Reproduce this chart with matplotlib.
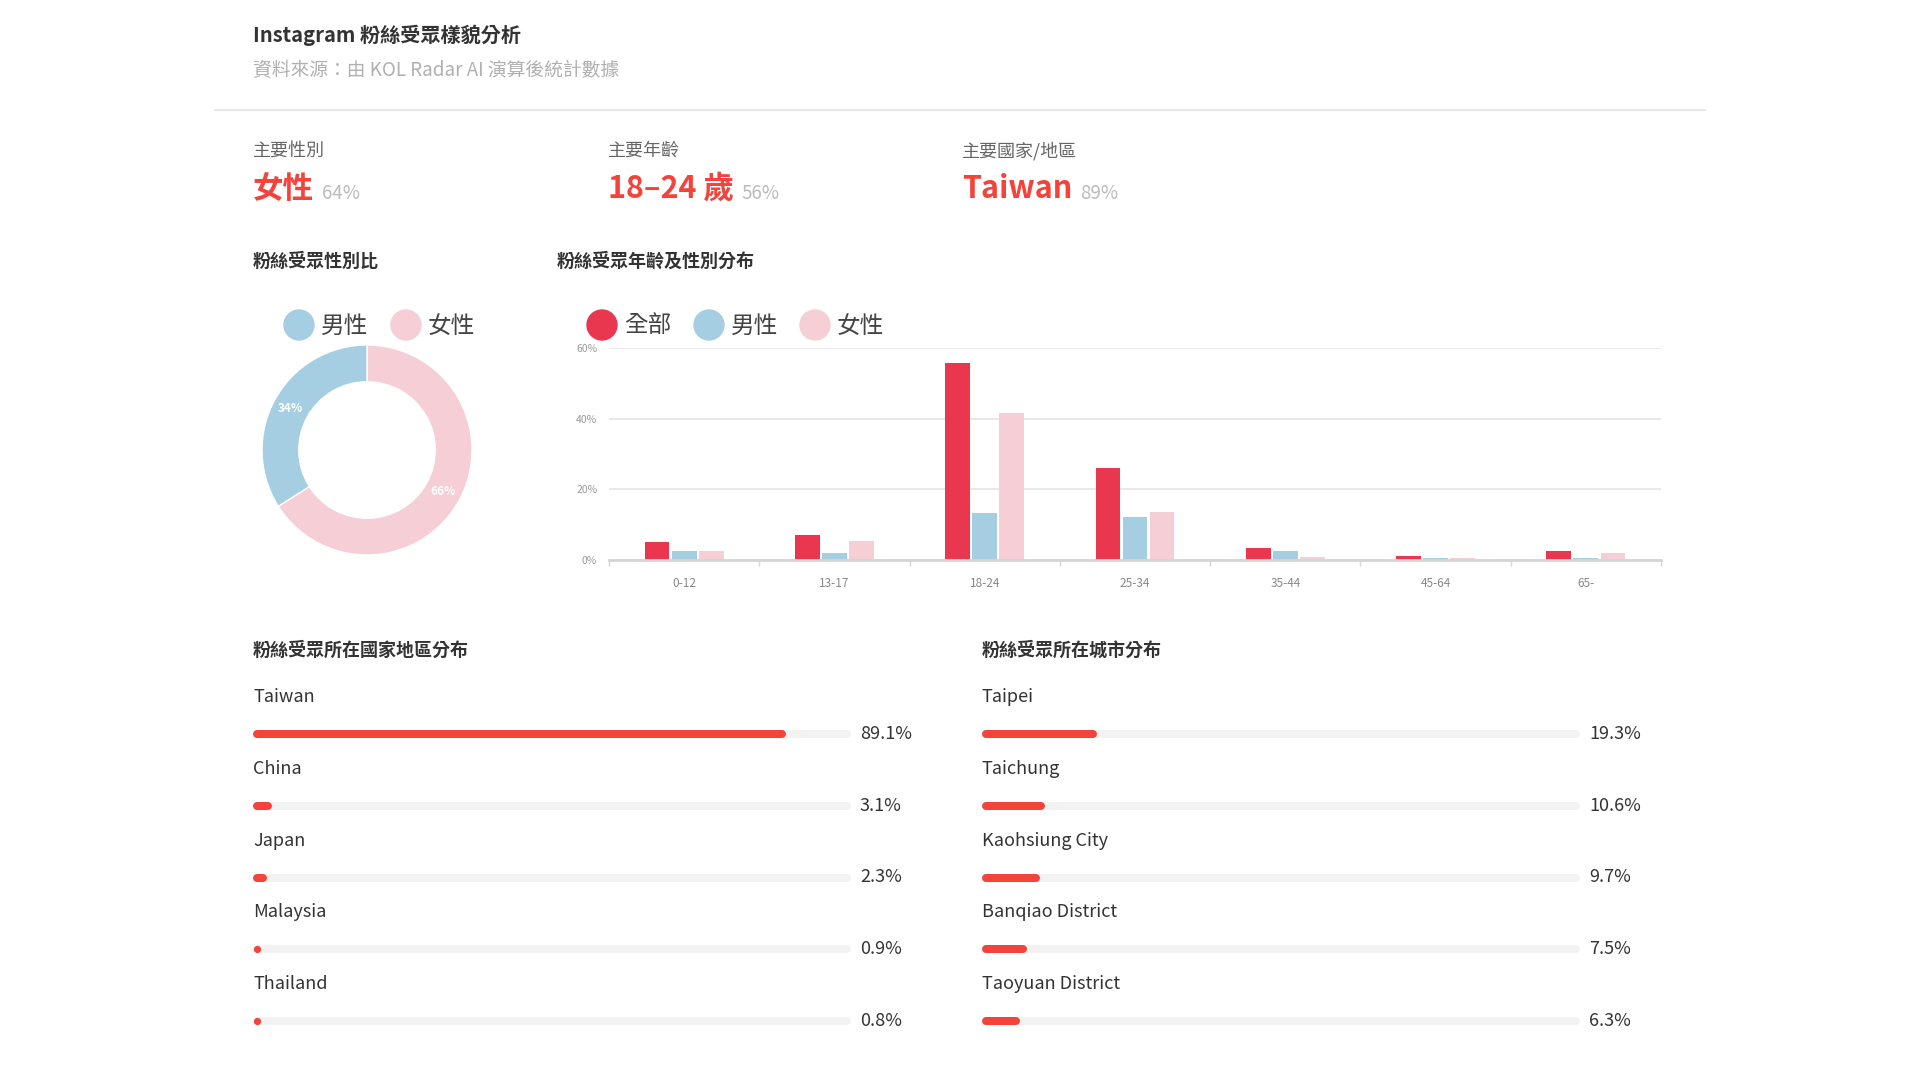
import numpy as np
import matplotlib
matplotlib.use("Agg")
import matplotlib.pyplot as plt
from matplotlib.patches import Ellipse
from matplotlib.lines import Line2D

plt.rcParams['font.family'] = ['Noto Sans CJK TC', 'DejaVu Sans']

W, H = 1920, 1080

# ---- data ----
summary_titles = ['主要性別', '主要年齡', '主要國家/地區']
summary_values = ['女性', '18–24 歲', 'Taiwan']
summary_pct = ['64%', '56%', '89%']

gender_labels = ['男性', '女性']
gender_share = [34, 66]

age_groups = ['0-12', '13-17', '18-24', '25-34', '35-44', '45-64', '65-']
age_all = [5.2, 7.1, 55.8, 26.0, 3.3, 1.1, 2.5]
age_male = [2.6, 1.9, 13.4, 12.3, 2.6, 0.7, 0.7]
age_female = [2.6, 5.4, 41.6, 13.6, 0.9, 0.5, 1.9]
age_series = ['全部', '男性', '女性']

countries = ['Taiwan', 'China', 'Japan', 'Malaysia', 'Thailand']
country_pct = [89.1, 3.1, 2.3, 0.9, 0.8]
cities = ['Taipei', 'Taichung', 'Kaohsiung City', 'Banqiao District', 'Taoyuan District']
city_pct = [19.3, 10.6, 9.7, 7.5, 6.3]

RED = '#f4433b'
ALL = '#e8374e'
MALE = '#a6cee3'
FEMALE = '#f6ced5'
DARK = '#333333'


def fx(x):
    return x / W


def fy(y):
    return 1 - y / H


def box(l, t, r, b):
    return [l / W, 1 - b / H, (r - l) / W, (b - t) / H]


fig = plt.figure(figsize=(19.2, 10.8), dpi=100)
fig.patch.set_facecolor('white')
renderer = fig.canvas.get_renderer()

# header
fig.text(fx(253), fy(35), 'Instagram 粉絲受眾樣貌分析', fontsize=14.5,
         fontweight='bold', color=DARK, va='center')
fig.text(fx(253), fy(71), '資料來源：由 KOL Radar AI 演算後統計數據', fontsize=13.5,
         color='#b0b0b0', va='center')
fig.add_artist(Line2D([fx(215), fx(1705)], [fy(110), fy(110)], color='#e6e6e6', lw=1.5))

# summary row
for title, val, pct, x in zip(summary_titles, summary_values, summary_pct, [253, 608, 962]):
    fig.text(fx(x), fy(151), title, fontsize=13, color='#666666', va='center')
    t = fig.text(fx(x), fy(198), val, fontsize=22, fontweight='bold', color=RED, va='baseline')
    right = t.get_window_extent(renderer).x1
    fig.text((right + 8) / W, fy(199), pct, fontsize=13.5, color='#bbbbbb', va='baseline')

# section headings
fig.text(fx(253), fy(261), '粉絲受眾性別比', fontsize=13, fontweight='bold', color=DARK, va='center')
fig.text(fx(557), fy(261), '粉絲受眾年齡及性別分布', fontsize=13, fontweight='bold', color=DARK, va='center')
fig.text(fx(253), fy(650), '粉絲受眾所在國家地區分布', fontsize=13, fontweight='bold', color=DARK, va='center')
fig.text(fx(982), fy(650), '粉絲受眾所在城市分布', fontsize=13, fontweight='bold', color=DARK, va='center')


def legend(items, xs, y):
    for (label, color), x in zip(items, xs):
        fig.add_artist(Ellipse((fx(x), fy(y)), 30 / W, 30 / H, color=color,
                               transform=fig.transFigure))
        fig.text(fx(x + 22), fy(y + 1), label, fontsize=17, color='#444444', va='center')


# donut
legend(zip(gender_labels, [MALE, FEMALE]), [299, 406], 325)
ax_d = fig.add_axes(box(262, 345, 472, 555))
ax_d.pie(gender_share[::-1], colors=[FEMALE, MALE], startangle=90, counterclock=False,
         radius=1, wedgeprops=dict(width=0.35, edgecolor='white', linewidth=1),
         autopct='%d%%', pctdistance=0.83,
         textprops=dict(color='white', fontsize=8.5, fontweight='bold'))
ax_d.set_xlim(-1, 1)
ax_d.set_ylim(-1, 1)

# age bar chart
legend(zip(age_series, [ALL, MALE, FEMALE]), [602, 709, 815], 325)
ax = fig.add_axes(box(609, 348, 1661, 560))
x = np.arange(len(age_groups))
bw = 0.165
ax.bar(x - 0.18, age_all, bw, color=ALL)
ax.bar(x, age_male, bw, color=MALE)
ax.bar(x + 0.18, age_female, bw, color=FEMALE)
ax.set_xlim(-0.5, len(age_groups) - 0.5)
ax.set_ylim(0, 60)
ax.set_yticks([0, 20, 40, 60])
ax.set_yticklabels(['0%', '20%', '40%', '60%'])
ax.yaxis.grid(True, color='#e8e8e8', lw=1.5)
ax.set_axisbelow(True)
for s in ['top', 'left', 'right']:
    ax.spines[s].set_visible(False)
ax.spines['bottom'].set_color('#d5d5d5')
ax.spines['bottom'].set_linewidth(2)
ax.set_xticks(x)
ax.set_xticklabels(age_groups)
ax.set_xticks(np.arange(-0.5, len(age_groups)), minor=True)
ax.tick_params(axis='y', length=0, pad=8.5, labelsize=7.5, labelcolor='#999999')
ax.tick_params(axis='x', which='major', length=0, pad=12, labelsize=8.5, labelcolor='#888888')
ax.tick_params(axis='x', which='minor', length=4, width=1, color='#d5d5d5')


# progress lists
def progress(names, vals, left, right):
    pax = fig.add_axes(box(left, 698, right, 1057))
    pax.set_xlim(0, 100)
    pax.set_ylim(len(names) - 0.5, -0.5)
    pax.axis('off')
    thick = 8
    lw = thick * 72 / 100
    cap = (thick / 2) / (right - left) * 100
    for i, (n, v) in enumerate(zip(names, vals)):
        pax.plot([cap, 100 - cap], [i, i], color='#f2f2f2', lw=lw,
                 solid_capstyle='round', clip_on=False)
        if v - cap > cap:
            pax.plot([cap, v - cap], [i, i], color=RED, lw=lw,
                     solid_capstyle='round', clip_on=False)
        else:
            pax.plot([cap], [i], 'o', color=RED, ms=lw * 0.9, mew=0, clip_on=False)
        pax.annotate(n, (0, i), xytext=(0, 37), textcoords='offset pixels', va='center',
                     ha='left', fontsize=13, color=DARK, annotation_clip=False)
        pax.annotate(f'{v}%', (100, i), xytext=(9, 0), textcoords='offset pixels',
                     va='center', ha='left', fontsize=13, color=DARK, annotation_clip=False)


progress(countries, country_pct, 253, 851)
progress(cities, city_pct, 982, 1580)

fig.savefig('out.png', dpi=100, facecolor='white')
